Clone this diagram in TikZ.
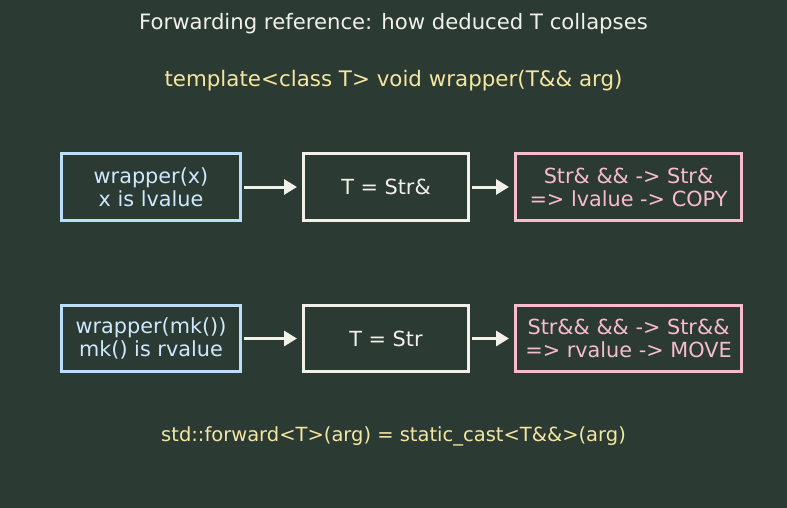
\documentclass[tikz,border=0pt]{standalone}
\usepackage{fontspec}
\setmainfont{DejaVu Sans}
\usetikzlibrary{arrows.meta}

\definecolor{bgdark}{HTML}{2B3A33}
\definecolor{inkblue}{HTML}{BBDEFB}
\definecolor{inkwhite}{HTML}{F1F1E9}
\definecolor{inkpink}{HTML}{F8BBD0}
\definecolor{inkyellow}{HTML}{F5E6A0}

\tikzset{
    box/.style={draw, line width=3pt, fill=bgdark, align=center,
        minimum height=66pt, inner sep=0pt, font=\fontsize{20.8}{23}\selectfont},
    callbox/.style={box, draw=inkblue, text=inkblue!70!white},
    typebox/.style={box, draw=inkwhite, text=inkwhite},
    resbox/.style={box, draw=inkpink, text=inkpink},
    flow/.style={line width=3pt, draw=inkwhite,
        -{Triangle[length=13pt,width=15pt]}, shorten >=5pt, shorten <=2pt},
}

\begin{document}
\begin{tikzpicture}[x=1pt, y=-1pt]
    \fill[bgdark] (0,0) rectangle (787,508);
    \useasboundingbox (0,0) rectangle (787,508);

    \node[text=inkwhite, font=\fontsize{21.2}{25}\selectfont] (title) at (393.5,24)
        {Forwarding reference: how deduced T collapses};
    \node[text=inkyellow, font=\fontsize{21.4}{25}\selectfont] (sig) at (393.5,81)
        {template<class T> void wrapper(T\&\& arg)};

    % lvalue row
    \node[callbox, minimum width=179pt] (lcall) at (151,187) {wrapper(x)\\x is lvalue};
    \node[typebox, minimum width=165pt] (ltype) at (386,187) {T = Str\&};
    \node[resbox, minimum width=226pt] (lres) at (628.5,187) {Str\& \&\& -> Str\&\\=> lvalue -> COPY};

    % rvalue row
    \node[callbox, minimum width=179pt] (rcall) at (151,338.5) {wrapper(mk())\\mk() is rvalue};
    \node[typebox, minimum width=165pt] (rtype) at (386,338.5) {T = Str};
    \node[resbox, minimum width=226pt] (rres) at (628.5,338.5) {Str\&\& \&\& -> Str\&\&\\=> rvalue -> MOVE};

    \draw[flow] (lcall) -- (ltype);
    \draw[flow] (ltype) -- (lres);
    \draw[flow] (rcall) -- (rtype);
    \draw[flow] (rtype) -- (rres);

    \node[text=inkyellow, font=\fontsize{19.5}{23}\selectfont] (fwd) at (393.5,436)
        {std::forward<T>(arg) = static\_cast<T\&\&>(arg)};
\end{tikzpicture}
\end{document}
